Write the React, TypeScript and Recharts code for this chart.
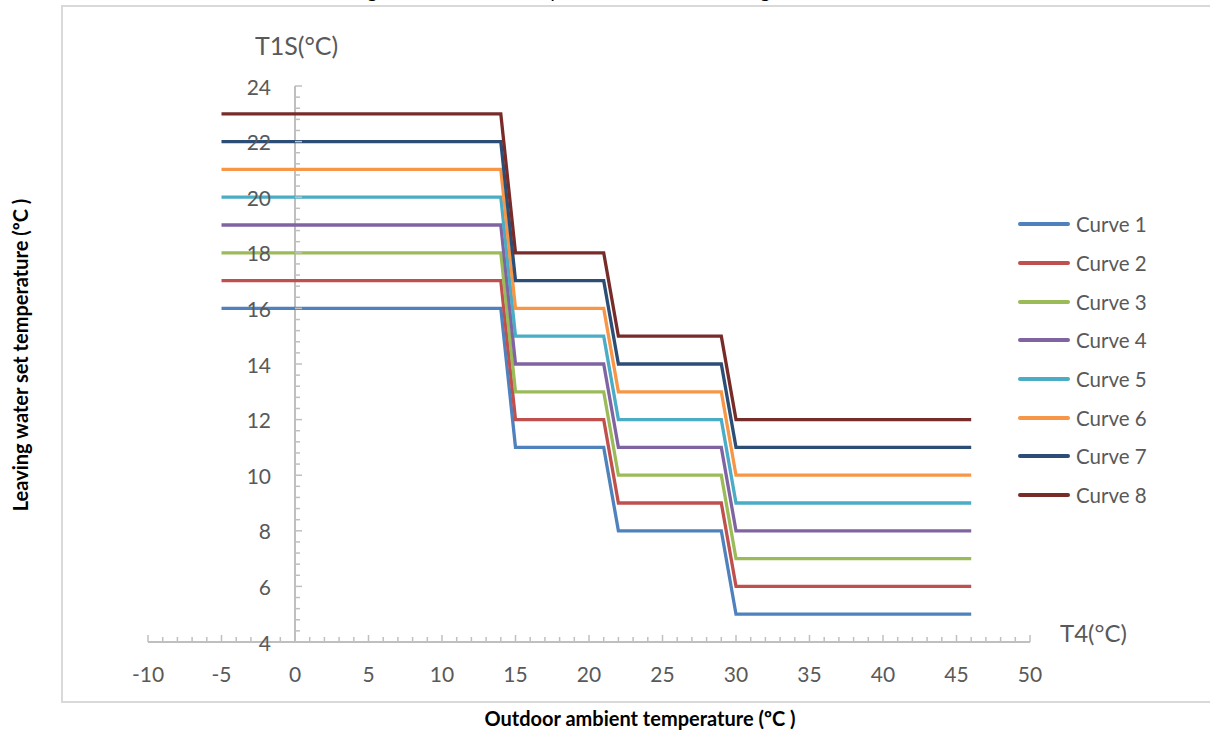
import React from 'react';
import { LineChart, Line, XAxis, YAxis, ReferenceLine, Legend } from 'recharts';

// outdoor temperature break points (T4)
const T4_POINTS = [-5, 14, 15, 21, 22, 29, 30, 46];

// leaving water set temperature (T1S) per curve, one value per break point
const CURVE_1 = [16, 16, 11, 11, 8, 8, 5, 5];
const CURVE_2 = [17, 17, 12, 12, 9, 9, 6, 6];
const CURVE_3 = [18, 18, 13, 13, 10, 10, 7, 7];
const CURVE_4 = [19, 19, 14, 14, 11, 11, 8, 8];
const CURVE_5 = [20, 20, 15, 15, 12, 12, 9, 9];
const CURVE_6 = [21, 21, 16, 16, 13, 13, 10, 10];
const CURVE_7 = [22, 22, 17, 17, 14, 14, 11, 11];
const CURVE_8 = [23, 23, 18, 18, 15, 15, 12, 12];

const CURVE_NAMES = ['Curve 1', 'Curve 2', 'Curve 3', 'Curve 4', 'Curve 5', 'Curve 6', 'Curve 7', 'Curve 8'];
const CURVE_VALUES = [CURVE_1, CURVE_2, CURVE_3, CURVE_4, CURVE_5, CURVE_6, CURVE_7, CURVE_8];
const CURVE_COLORS = ['#4f81bd', '#c0504d', '#9bbb59', '#8064a2', '#4bacc6', '#f79646', '#2c4d75', '#772c2a'];

const X_MIN = -10;
const X_MAX = 50;
const Y_MIN = 4;
const Y_MAX = 24;
const X_LABEL_STEP = 5;
const Y_LABEL_STEP = 2;
const Y_MINOR = 0.4;

const data = T4_POINTS.map((t4, i) => {
  const row: Record<string, number> = { t4 };
  CURVE_VALUES.forEach((vals, c) => {
    row['c' + (c + 1)] = vals[i];
  });
  return row;
});

const X_TICKS: number[] = [];
for (let v = X_MIN; v <= X_MAX; v++) X_TICKS.push(v);
const Y_TICKS: number[] = [];
for (let i = 0; i <= Math.round((Y_MAX - Y_MIN) / Y_MINOR); i++) Y_TICKS.push(Y_MIN + i * Y_MINOR);

const W = 1210;
const H = 734;
const X_AXIS_H = 30;
const Y_AXIS_W = 60;
// plot area: left 148, right 1030, top 86, bottom 642
const MARGIN = { top: 86, right: 180, bottom: 92 - X_AXIS_H, left: 148 - Y_AXIS_W };
const PLOT_W = W - 148 - MARGIN.right;
// pixel offset of the x = 0 position (where the vertical axis sits)
const Y_AXIS_SHIFT = (PLOT_W * (0 - X_MIN)) / (X_MAX - X_MIN);

const AXIS_GRAY = '#bfbfbf';
const TEXT_GRAY = '#595959';
const FONT = 'Lato, "Open Sans", sans-serif';

const XTick = (props: any) => {
  const { x, y, payload } = props;
  const v = payload.value;
  const major = v % X_LABEL_STEP === 0;
  return (
    <g>
      <line x1={x} x2={x} y1={y} y2={y - (major ? 7 : 5)} stroke={AXIS_GRAY} strokeWidth={1.5} />
      {major && (
        <text x={x} y={y + 31} textAnchor="middle" dominantBaseline="central" fill={TEXT_GRAY} fontSize={21} fontFamily={FONT}>
          {v}
        </text>
      )}
    </g>
  );
};

const YTick = (props: any) => {
  const { x, y, payload } = props;
  const v = payload.value;
  const r = Math.round(v);
  const major = Math.abs(v - r) < 1e-6 && r % Y_LABEL_STEP === 0;
  const ax = x + Y_AXIS_SHIFT;
  return (
    <g>
      <line x1={ax} x2={ax + (major ? 7 : 5)} y1={y} y2={y} stroke={AXIS_GRAY} strokeWidth={1.5} />
      {major && (
        <text x={ax - 24} y={y} textAnchor="end" dominantBaseline="central" fill={TEXT_GRAY} fontSize={21} fontFamily={FONT}>
          {r}
        </text>
      )}
    </g>
  );
};

const LegendContent = (props: any) => {
  const { payload } = props;
  return (
    <div>
      {(payload || []).map((p: any) => (
        <div key={p.value} style={{ display: 'flex', alignItems: 'center', height: 38.7 }}>
          <div style={{ width: 52, height: 4, borderRadius: 2, background: p.color, marginRight: 6 }} />
          <span style={{ fontFamily: FONT, fontSize: 20.5, color: TEXT_GRAY, whiteSpace: 'nowrap' }}>{p.value}</span>
        </div>
      ))}
    </div>
  );
};

export default function App() {
  return (
    <div style={{ position: 'absolute', left: 0, top: 0, width: W, height: H, overflow: 'hidden', background: '#fff' }}>
      <div
        style={{
          position: 'absolute',
          left: 0,
          width: 1176,
          top: -22,
          textAlign: 'center',
          fontFamily: FONT,
          fontStyle: 'italic',
          fontSize: 20,
          color: '#000',
          whiteSpace: 'nowrap',
        }}
      >
        Figure 8-8 Ambient temperature curves for cooling mode
      </div>
      <div
        style={{
          position: 'absolute',
          left: 61,
          top: 5,
          width: 1200,
          height: 694,
          border: '2px solid #d9d9d9',
        }}
      />
      <div style={{ position: 'absolute', left: 0, top: 0 }}>
        <LineChart width={W} height={H} data={data} margin={MARGIN}>
          <XAxis
            dataKey="t4"
            type="number"
            domain={[X_MIN, X_MAX]}
            ticks={X_TICKS}
            interval={0}
            tickSize={0}
            tickMargin={0}
            tickLine={false}
            height={X_AXIS_H}
            axisLine={{ stroke: AXIS_GRAY, strokeWidth: 2 }}
            tick={<XTick />}
            allowDataOverflow
          />
          <YAxis
            type="number"
            domain={[Y_MIN, Y_MAX]}
            ticks={Y_TICKS}
            interval={0}
            tickSize={0}
            tickMargin={0}
            tickLine={false}
            axisLine={false}
            width={Y_AXIS_W}
            tick={<YTick />}
            allowDataOverflow
          />
          <ReferenceLine x={0} stroke={AXIS_GRAY} strokeWidth={2} />
          {CURVE_NAMES.map((name, i) => (
            <Line
              key={name}
              type="linear"
              dataKey={'c' + (i + 1)}
              name={name}
              stroke={CURVE_COLORS[i]}
              strokeWidth={3.3}
              dot={false}
              activeDot={false}
              isAnimationActive={false}
            />
          ))}
          <Legend
            layout="vertical"
            align="center"
            verticalAlign="middle"
            wrapperStyle={{ left: 1018, top: 205, width: 'auto' }}
            content={<LegendContent />}
          />
        </LineChart>
      </div>
      <div
        style={{
          position: 'absolute',
          left: 255,
          top: 45,
          transform: 'translateY(-50%)',
          fontFamily: FONT,
          fontSize: 25,
          color: TEXT_GRAY,
          whiteSpace: 'nowrap',
        }}
      >
        T1S(°C)
      </div>
      <div
        style={{
          position: 'absolute',
          left: 1060,
          top: 632,
          transform: 'translateY(-50%)',
          fontFamily: FONT,
          fontSize: 24,
          color: TEXT_GRAY,
          whiteSpace: 'nowrap',
        }}
      >
        T4(°C)
      </div>
      <div
        style={{
          position: 'absolute',
          left: 20,
          top: 355,
          transform: 'translate(-50%, -50%) rotate(-90deg)',
          fontFamily: FONT,
          fontWeight: 'bold',
          fontSize: 20,
          color: '#000',
          whiteSpace: 'nowrap',
        }}
      >
        Leaving water set temperature (ºC )
      </div>
      <div
        style={{
          position: 'absolute',
          left: 640,
          top: 718,
          transform: 'translate(-50%, -50%)',
          fontFamily: FONT,
          fontWeight: 'bold',
          fontSize: 20,
          color: '#000',
          whiteSpace: 'nowrap',
        }}
      >
        Outdoor ambient temperature (ºC )
      </div>
    </div>
  );
}
